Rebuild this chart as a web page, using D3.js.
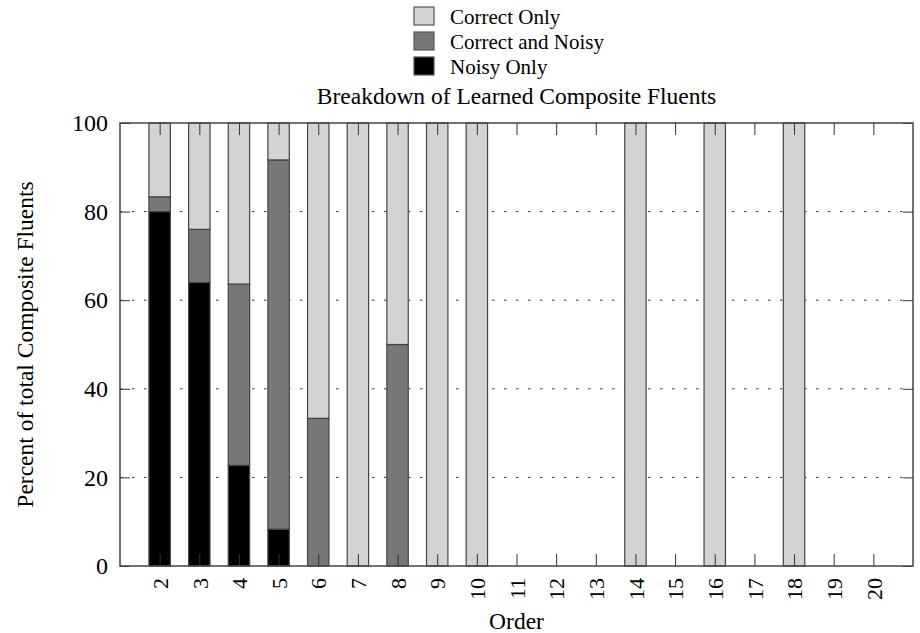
<!DOCTYPE html>
<html>
<head>
<meta charset="utf-8">
<script src="https://cdn.jsdelivr.net/npm/d3@7"></script>
<style>
  body { margin: 0; background: #fff; }
  svg text { font-family: "Liberation Serif", "Times New Roman", serif; fill: #000; }
</style>
</head>
<body>
<div id="chart"></div>
<script>
// categories (order of composite fluent)
const orders = ["2","3","4","5","6","7","8","9","10","11","12","13","14","15","16","17","18","19","20"];
// percentages
const noisyOnly       = [80, 64, 22.73, 8.33, 0, 0, 0, 0, 0, 0, 0, 0, 0, 0, 0, 0, 0, 0, 0];
const correctAndNoisy = [3.33, 12, 40.91, 83.34, 33.33, 0, 50, 0, 0, 0, 0, 0, 0, 0, 0, 0, 0, 0, 0];
const correctOnly     = [16.67, 24, 36.36, 8.33, 66.67, 100, 50, 100, 100, 0, 0, 0, 100, 0, 100, 0, 100, 0, 0];
const yTicks = [0, 20, 40, 60, 80, 100];
const seriesNames = ["Correct Only", "Correct and Noisy", "Noisy Only"];

const svgWidth = 920, svgHeight = 633;
const margin = { top: 123, right: 7, bottom: 67, left: 120 };
const width = svgWidth - margin.left - margin.right;
const height = svgHeight - margin.top - margin.bottom;

const colors = { noisy: "#000000", both: "#777777", correct: "#d3d3d3" };

const svg = d3.select("#chart").append("svg")
  .attr("width", svgWidth)
  .attr("height", svgHeight);

const g = svg.append("g").attr("transform", `translate(${margin.left},${margin.top})`);

// scales
const x = d3.scalePoint().domain(orders).range([0, width]).padding(1);
const step = x.step();
const barW = step * 0.54;
const y = d3.scaleLinear().domain([0, 100]).range([height, 0]);

// dotted grid
g.selectAll(".grid")
  .data(yTicks.filter(d => d > 0 && d < 100))
  .enter().append("line")
  .attr("x1", 0).attr("x2", width)
  .attr("y1", d => y(d)).attr("y2", d => y(d))
  .attr("stroke", "#333")
  .attr("stroke-width", 1)
  .attr("stroke-dasharray", "2.5,9.5");

// stacked bars
const table = orders.map((o, i) => ({
  order: o, noisy: noisyOnly[i], both: correctAndNoisy[i], correct: correctOnly[i]
}));
const stack = d3.stack().keys(["noisy", "both", "correct"])(table);

stack.forEach(layer => {
  g.selectAll(".bar-" + layer.key)
    .data(layer.filter(d => d[1] - d[0] > 0))
    .enter().append("rect")
    .attr("x", d => x(d.data.order) - barW / 2)
    .attr("width", barW)
    .attr("y", d => y(d[1]))
    .attr("height", d => y(d[0]) - y(d[1]))
    .attr("fill", colors[layer.key])
    .attr("stroke", "#444")
    .attr("stroke-width", 1.2);
});

// axes
const xAxis = g.append("g")
  .attr("transform", `translate(0,${height})`)
  .call(d3.axisBottom(x).tickSize(-12));
xAxis.selectAll("text")
  .attr("transform", "rotate(-90)")
  .attr("x", -12)
  .attr("y", 0)
  .attr("dy", "0.35em")
  .attr("text-anchor", "end")
  .style("font-size", "22px");

g.append("g")
  .call(d3.axisTop(x).tickSize(-12).tickFormat(""));

g.append("g")
  .call(d3.axisLeft(y).tickValues(yTicks).tickSize(-10).tickPadding(12))
  .selectAll("text")
  .style("font-size", "24px");

g.append("g")
  .attr("transform", `translate(${width},0)`)
  .call(d3.axisRight(y).tickValues(yTicks).tickSize(-10).tickFormat(""));

g.selectAll(".domain").remove();
g.selectAll(".tick line").attr("stroke", "#333").attr("stroke-width", 1);

// frame
g.append("rect")
  .attr("width", width).attr("height", height)
  .attr("fill", "none")
  .attr("stroke", "#444")
  .attr("stroke-width", 1.5);

// title and axis labels
svg.append("text")
  .attr("x", margin.left + width / 2)
  .attr("y", 104)
  .attr("text-anchor", "middle")
  .style("font-size", "23.5px")
  .text("Breakdown of Learned Composite Fluents");

svg.append("text")
  .attr("x", margin.left + width / 2)
  .attr("y", 629)
  .attr("text-anchor", "middle")
  .style("font-size", "23.5px")
  .text("Order");

svg.append("text")
  .attr("transform", `translate(33,${margin.top + height / 2}) rotate(-90)`)
  .attr("text-anchor", "middle")
  .style("font-size", "23.5px")
  .text("Percent of total Composite Fluents");

// legend
const legendColors = [colors.correct, colors.both, colors.noisy];
const legend = svg.append("g").attr("transform", "translate(414,7)");
seriesNames.forEach((name, i) => {
  legend.append("rect")
    .attr("x", 0).attr("y", i * 25)
    .attr("width", 20).attr("height", 18)
    .attr("fill", legendColors[i])
    .attr("stroke", "#555")
    .attr("stroke-width", 1.2);
  legend.append("text")
    .attr("x", 36).attr("y", i * 25 + 17)
    .style("font-size", "21px")
    .text(name);
});
</script>
</body>
</html>
